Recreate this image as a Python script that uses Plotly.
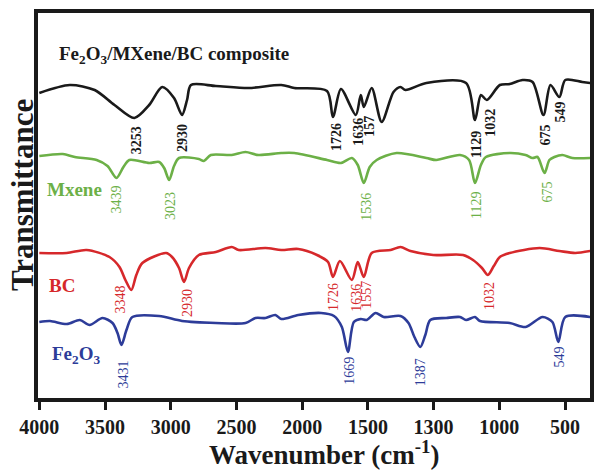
import plotly.graph_objects as go

# ---------------- data (x in axis units, y in arbitrary transmittance units) ----------------
composite_x = [4000, 3768, 3579, 3428, 3277, 3164, 3065, 2975, 2914, 2876, 2846, 2657, 2408, 2159,
               2060, 1811, 1766, 1705, 1592, 1554, 1531, 1471, 1395, 1305, 1252, 1214, 1055, 753,
               685, 640, 595, 496, 421, 323, 247, 164, 111, 43, -2, -131, -191]
composite_y = [307, 315, 310, 295, 282, 295, 313, 302, 285, 300, 315, 314, 312, 315,
               312, 309, 283, 311, 285, 305, 293, 312, 278, 308, 313, 310, 317, 317,
               280, 305, 300, 315, 316, 320, 318, 285, 315, 303, 320, 318, 317]

mxene_x = [4000, 3821, 3730, 3564, 3481, 3413, 3360, 3315, 3164, 3088, 3050, 3012, 2975, 2937,
           2786, 2748, 2695, 2536, 2431, 2332, 2159, 2060, 1811, 1705, 1622, 1577, 1531, 1486,
           1433, 1282, 1055, 980, 799, 730, 685, 640, 602, 421, 300, 247, 209, 156, 119, 81,
           20, -55, -191]
mxene_y = [244, 246, 243, 240, 234, 222, 233, 240, 237, 238, 232, 220, 234, 242,
           241, 239, 245, 245, 248, 245, 247, 247, 240, 237, 242, 235, 217, 233,
           240, 247, 242, 240, 245, 240, 217, 235, 243, 247, 245, 242, 243, 227, 240, 243,
           245, 242, 242]

bc_x = [4000, 3791, 3640, 3466, 3390, 3345, 3300, 3262, 3216, 3035, 2990, 2937, 2899, 2861,
        2786, 2657, 2536, 2483, 2279, 2159, 2030, 1887, 1803, 1766, 1713, 1622, 1577, 1531,
        1471, 1327, 1252, 1176, 1003, 776, 700, 632, 587, 542, 496, 421, 194, 43, -78, -191]
bc_y = [147, 147, 150, 143, 133, 120, 110, 125, 137, 147, 143, 132, 118, 132,
        145, 148, 153, 150, 152, 150, 151, 145, 138, 123, 139, 120, 138, 123,
        147, 150, 153, 149, 145, 145, 140, 132, 125, 134, 143, 147, 152, 149, 147, 149]

fe2o3_x = [4000, 3919, 3791, 3692, 3617, 3519, 3443, 3405, 3375, 3337, 3292, 3088, 2914, 2657,
           2431, 2355, 2279, 2204, 2159, 2030, 1856, 1758, 1698, 1652, 1607, 1554, 1509, 1441,
           1380, 1252, 1191, 1146, 1101, 1063, 1025, 904, 799, 753, 685, 647, 421, 300, 171,
           96, 51, -2, -191]
fe2o3_y = [78, 79, 76, 80, 75, 82, 77, 67, 55, 70, 83, 84, 79, 77,
           77, 82, 82, 85, 81, 85, 87, 84, 73, 48, 78, 81, 80, 87,
           83, 84, 77, 63, 53, 65, 80, 82, 83, 80, 83, 79, 77, 73, 83,
           78, 58, 83, 83]

# tick positions on the axis and the labels printed under them
tick_vals = [4000, 3500, 3000, 2500, 2000, 1500, 1000, 500, 0]
tick_text = ["4000", "3500", "3000", "2500", "2000", "1500", "1300", "1000", "500"]

# peak labels: text, x, y
composite_peaks = [("3253", 3262, 260), ("2930", 2914, 262), ("1726", 1743, 263),
                   ("1636", 1577, 268), ("157", 1494, 274), ("1129", 678, 256),
                   ("1032", 572, 277), ("675", 156, 265), ("549", 35, 288)]
mxene_peaks = [("3439", 3413, 201), ("3023", 3005, 194), ("1536", 1516, 193),
               ("1129", 678, 195), ("675", 141, 208)]
bc_peaks = [("3348", 3383, 101), ("2930", 2876, 97), ("1726", 1766, 103),
            ("1636", 1592, 102), ("1557", 1516, 105), ("1032", 579, 104)]
fe2o3_peaks = [("3431", 3360, 26), ("1669", 1645, 29), ("1387", 1101, 28), ("549", 43, 43)]

# series names and label anchors
series = [
    ("Fe<sub>2</sub>O<sub>3</sub>/MXene/BC composite", composite_x, composite_y, "#1a1a1a", composite_peaks, (3866, 345), True),
    ("Mxene", mxene_x, mxene_y, "#6cb047", mxene_peaks, (3957, 211), False),
    ("BC", bc_x, bc_y, "#d6282b", bc_peaks, (3942, 115), False),
    ("Fe<sub>2</sub>O<sub>3</sub>", fe2o3_x, fe2o3_y, "#2d3c99", fe2o3_peaks, (3919, 45), False),
]

FONT = "Liberation Serif, Times New Roman, serif"

fig = go.Figure()
annotations = []
for name, xs, ys, color, peaks, (lx, ly), bold_peaks in series:
    fig.add_trace(go.Scatter(x=xs, y=ys, mode="lines", name=name,
                             line=dict(color=color, width=2.6, shape="spline", smoothing=0.8),
                             showlegend=False, hoverinfo="skip"))
    annotations.append(dict(x=lx, y=ly, xref="x", yref="y", text=name, showarrow=False,
                            xanchor="left", yanchor="middle",
                            font=dict(family=FONT, size=19, color=color, weight="bold")))
    for txt, px, py in peaks:
        annotations.append(dict(x=px, y=py, xref="x", yref="y", text=txt, showarrow=False,
                                textangle=-90, xanchor="center", yanchor="middle",
                                font=dict(family=FONT, size=14, color=color,
                                          weight="bold" if bold_peaks else "normal")))

annotations.append(dict(x=0.518, y=-0.142, xref="paper", yref="paper",
                        text="Wavenumber (cm<sup>-1</sup>)", showarrow=False,
                        xanchor="center", yanchor="middle",
                        font=dict(family=FONT, size=27, color="#1a1a1a", weight="bold")))
annotations.append(dict(x=-0.029, y=0.527, xref="paper", yref="paper",
                        text="Transmittance", showarrow=False, textangle=-90,
                        xanchor="center", yanchor="middle",
                        font=dict(family=FONT, size=31, color="#1a1a1a", weight="bold")))

fig.update_layout(
    width=596, height=473,
    margin=dict(l=38, r=2, t=13, b=75),
    paper_bgcolor="white", plot_bgcolor="white",
    annotations=annotations,
    xaxis=dict(range=[4010, -190], tickvals=tick_vals, ticktext=tick_text,
               showgrid=False, zeroline=False, showline=True, mirror=True,
               linecolor="#1a1a1a", linewidth=4, ticks="outside", ticklen=8,
               tickwidth=3, tickcolor="#1a1a1a",
               tickfont=dict(family=FONT, size=20, color="#1a1a1a", weight="bold")),
    yaxis=dict(range=[2, 387], showticklabels=False, showgrid=False, zeroline=False,
               showline=True, mirror=True, linecolor="#1a1a1a", linewidth=4, ticks=""),
)

fig.write_html("out.html", config={"displayModeBar": False},
               post_script="document.body.style.margin='0';document.body.style.overflow='hidden';")
